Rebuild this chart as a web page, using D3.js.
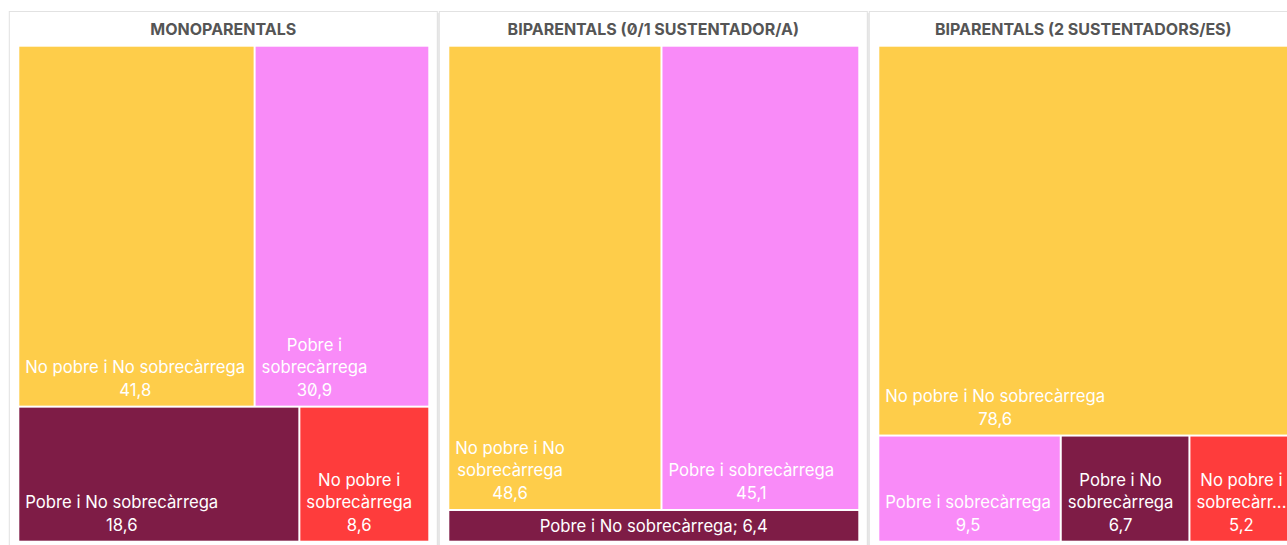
<!DOCTYPE html>
<html>
<head>
<meta charset="utf-8">
<script src="https://cdn.jsdelivr.net/npm/d3@7"></script>
<style>
  body { margin: 0; background: #fff; }
  svg { display: block; font-family: Inter, "Noto Sans", sans-serif; font-feature-settings: "zero" 1; }
</style>
</head>
<body>
<svg id="chart" width="1287" height="545"></svg>
<script>
// panel titles
const groups = [
    "MONOPARENTALS",
    "BIPARENTALS (0/1 SUSTENTADOR/A)",
    "BIPARENTALS (2 SUSTENTADORS/ES)"
];

const categories = [
    "No pobre i No sobrecàrrega",
    "Pobre i sobrecàrrega",
    "Pobre i No sobrecàrrega",
    "No pobre i sobrecàrrega"
];

// percentages per group, same order as categories (null = not shown)
const monoparentals = [41.8, 30.9, 18.6, 8.6];
const biparentals01 = [48.6, 45.1, 6.4, null];
const biparentals2 = [78.6, 9.5, 6.7, 5.2];
const series = [monoparentals, biparentals01, biparentals2];

const colors = ["#fecd4a", "#f98bf8", "#7e1c46", "#fe3c3c"];

const color = d3.scaleOrdinal().domain(categories).range(colors);
const fmt = v => d3.format(".1f")(v).replace(".", ",");

const svg = d3.select("#chart");
const panelStep = 430, tmW = 409, tmH = 494, tmTop = 46.7, tmLeft = 19.3;
const fontSize = 16.7;

const treemap = d3.treemap()
    .tile(d3.treemapSquarify)
    .size([tmW, tmH])
    .paddingInner(2);

// wrap a label into lines that fit wrapW, truncating words wider than cutW
function wrapLines(textSel, words, wrapW, cutW) {
    const measure = s => { textSel.text(s); return textSel.node().getComputedTextLength(); };
    const lines = [];
    let cur = "";
    words.forEach(w => {
        const test = cur ? cur + " " + w : w;
        if (measure(test) <= wrapW || !cur) {
            cur = test;
        } else {
            lines.push(cur);
            cur = w;
        }
    });
    if (cur) lines.push(cur);
    return lines.map(l => {
        if (measure(l) <= cutW) return l;
        let s = l;
        while (s.length > 1 && measure(s + "...") > cutW) s = s.slice(0, -1);
        return s + "...";
    });
}

series.forEach((vals, i) => {
    const px = tmLeft + i * panelStep;
    const g = svg.append("g");

    // panel box
    g.append("rect")
        .attr("x", px - 8.5).attr("y", 13)
        .attr("width", 428).attr("height", 560)
        .attr("fill", "#e4e4e4");
    g.append("rect")
        .attr("x", px - 10).attr("y", 11.5)
        .attr("width", 428).attr("height", 560)
        .attr("fill", "#fff")
        .attr("stroke", "#e2e2e2")
        .attr("stroke-width", 1);

    g.append("text")
        .attr("x", px - 10 + 214)
        .attr("y", 35)
        .attr("text-anchor", "middle")
        .attr("font-size", 16)
        .attr("font-weight", 700)
        .attr("fill", "#555")
        .text(groups[i]);

    const data = {
        children: categories
            .map((c, j) => ({ name: c, value: vals[j] }))
            .filter(d => d.value != null)
    };
    const root = d3.hierarchy(data)
        .sum(d => d.value || 0)
        .sort((a, b) => b.value - a.value);
    treemap(root);

    const cell = g.append("g")
        .attr("transform", `translate(${px},${tmTop})`)
        .selectAll("g")
        .data(root.leaves())
        .join("g");

    cell.append("rect")
        .attr("x", d => d.x0)
        .attr("y", d => d.y0)
        .attr("width", d => d.x1 - d.x0)
        .attr("height", d => d.y1 - d.y0)
        .attr("fill", d => color(d.data.name));

    cell.each(function(d) {
        const c = d3.select(this);
        const w = d.x1 - d.x0, h = d.y1 - d.y0;
        const txt = c.append("text")
            .attr("fill", "#fff")
            .attr("font-size", fontSize)
            .attr("text-anchor", "middle");

        if (h < 50) {
            txt.attr("x", d.x0 + w / 2)
                .attr("y", d.y0 + h / 2 + 6)
                .text(d.data.name + "; " + fmt(d.data.value));
            return;
        }
        const lines = wrapLines(txt, d.data.name.split(" "), w - 10, w - 4);
        lines.push(fmt(d.data.value));
        txt.text(null);
        const widths = lines.map(l => {
            const t = c.append("text").attr("font-size", fontSize).text(l);
            const len = t.node().getComputedTextLength();
            t.remove();
            return len;
        });
        const bw = d3.max(widths);
        const cx = d.x0 + 6 + bw / 2;
        const lastY = d.y1 - 10;
        txt.selectAll("tspan")
            .data(lines)
            .join("tspan")
            .attr("x", cx)
            .attr("y", (l, k) => lastY - (lines.length - 1 - k) * 22.5)
            .text(l => l);
    });
});
</script>
</body>
</html>
